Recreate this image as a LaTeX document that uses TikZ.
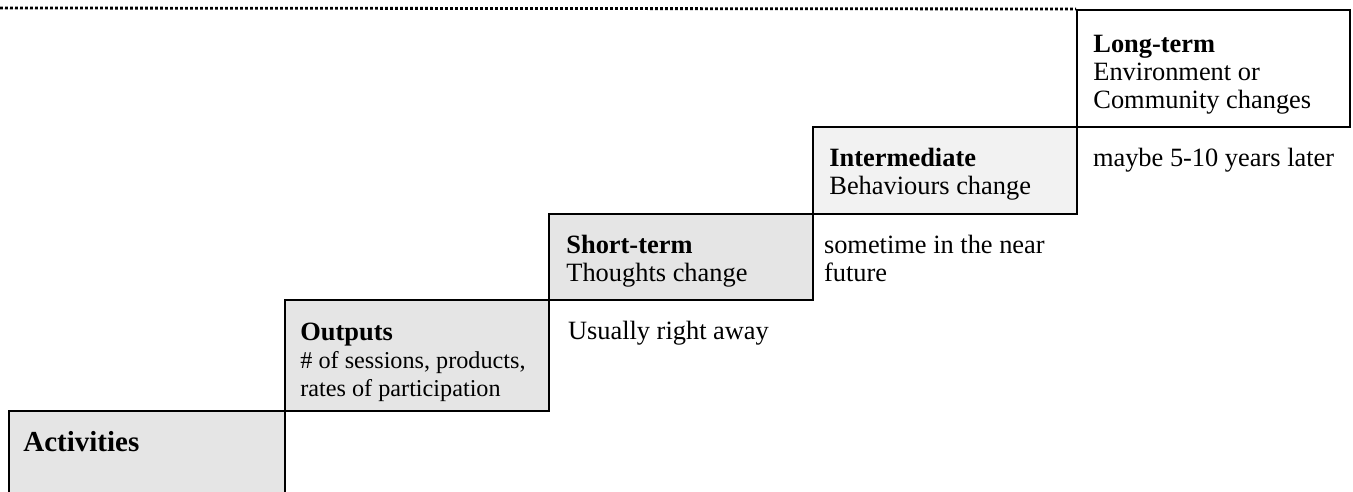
\documentclass[tikz,border=0pt]{standalone}
\usepackage{fontspec}
\setmainfont{Liberation Serif}
\usepackage{tikz}
\usetikzlibrary{positioning, calc}
\definecolor{stepgray}{RGB}{229, 229, 229}
\definecolor{steplight}{RGB}{242, 242, 242}
\tikzstyle{stepbox} = [rectangle, draw=black, line width=0.8pt, anchor=north west, inner sep=0pt, minimum width=132pt]
\tikzstyle{steptext} = [anchor=north west, inner sep=0pt, align=left, font=\fontsize{13.2}{14}\selectfont]
\tikzstyle{topline} = [line width=1.4pt, dash pattern=on 1.4pt off 1.1pt]
\newcommand{\detailfont}{\fontsize{12.1}{13.5}\selectfont}

\begin{document}
\begin{tikzpicture}[x=0.5pt, y=-0.5pt]
    \useasboundingbox (0,0) rectangle (1353,492);

    % Steps, lowest to highest
    \node[stepbox, fill=stepgray, minimum width=138pt, minimum height=50pt] (activities) at (8,410) {};
    \node[stepbox, fill=stepgray, minimum height=55.5pt] (outputs) at (284,299) {};
    \node[stepbox, fill=stepgray, minimum height=43pt] (shortterm) at (548,213) {};
    \node[stepbox, fill=steplight, minimum height=43.5pt] (intermediate) at (812,126) {};
    \node[stepbox, fill=white, minimum width=136.5pt, minimum height=58.5pt] (longterm) at (1076,9) {};

    % Dotted rule along the top
    \coordinate (rulestart) at (0,8);
    \draw[topline] (rulestart) -- (longterm.north west);

    % Step labels
    \node[steptext] (activitiestext) at ($(activities.north west)+(15,21)$) {\fontsize{14.5}{16}\selectfont\textbf{Activities}};
    \node[steptext] (outputstext) at ($(outputs.north west)+(16,24)$) {\textbf{Outputs}\\{\detailfont\# of sessions, products,}\\{\detailfont rates of participation}};
    \node[steptext] (shorttermtext) at ($(shortterm.north west)+(18,22)$) {\textbf{Short-term}\\Thoughts change};
    \node[steptext] (intermediatetext) at ($(intermediate.north west)+(17,22)$) {\textbf{Intermediate}\\Behaviours change};
    \node[steptext] (longtermtext) at ($(longterm.north west)+(17,26)$) {\textbf{Long-term}\\Environment or\\Community changes};

    % When each step shows up
    \node[steptext] (outputswhen) at ($(outputs.north east)+(18,22)$) {Usually right away};
    \node[steptext] (shorttermwhen) at ($(shortterm.north east)+(10,22)$) {sometime in the near\\future};
    \node[steptext] (intermediatewhen) at ($(intermediate.north east)+(15,22)$) {maybe 5-10 years later};
\end{tikzpicture}
\end{document}
